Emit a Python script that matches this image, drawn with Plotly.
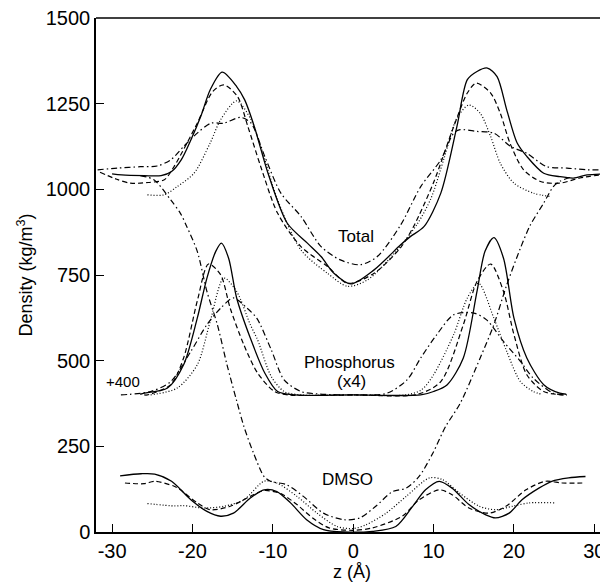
import plotly.graph_objects as go

# ---------------- data ----------------
# Total density
total_solid_z = [-30, -28.8, -26, -23.9, -22.6, -21.4, -20.2, -18.9, -17.8, -16.3, -14.5, -13.5, -12.3, -10.6, -8.2,
                 -5.7, -4.0, -2.4, -0.3, 2.6, 5.9, 7.1, 8.8, 10.9, 12.9, 14.2, 15.4, 16.7, 17.9, 19.1, 20.4, 21.6,
                 23.7, 25.7, 27.4, 29.1, 31.5]
total_solid_v = [1045, 1042, 1040, 1040, 1052, 1086, 1144, 1217, 1290, 1342, 1300, 1261, 1183, 1047, 901,
                 843, 804, 755, 724, 765, 838, 862, 891, 989, 1183, 1320, 1344, 1354, 1329, 1232, 1135, 1096,
                 1047, 1037, 1033, 1042, 1045]

total_dash_z = [-31.5, -29.5, -27.7, -25.5, -23.5, -22.3, -19.4, -17.5, -16.1, -14.4, -13.1, -11.5, -9.4, -6.5,
                -3.2, -0.7, 2.6, 5.9, 7.5, 10, 12.5, 14.2, 15.3, 17.1, 18.3, 19.5, 21.2, 23.3, 25.7, 28.2, 30.7]
total_dash_v = [1050, 1030, 1018, 1020, 1028, 1066, 1193, 1285, 1305, 1271, 1183, 1066, 930, 833,
                775, 726, 755, 830, 891, 1020, 1183, 1281, 1310, 1281, 1222, 1135, 1057, 1023, 1018, 1033, 1042]

total_dot_z = [-25.6, -23.5, -21.9, -19.8, -17.8, -16.5, -14.5, -12.7, -11.5, -9.4, -6.5, -3.2, -0.7, 1.8, 5,
               8, 9.7, 11.3, 12.9, 14.4, 15.8, 17.1, 18.3, 20, 22.4, 24.5]
total_dot_v = [984, 984, 1008, 1047, 1135, 1203, 1258, 1203, 1125, 969, 823, 755, 717, 736, 810,
               900, 975, 1090, 1208, 1246, 1222, 1154, 1076, 1018, 989, 979]

total_dashdot_z = [-31.8, -29.3, -26.5, -24.4, -22.7, -21.1, -19.4, -17.7, -16.1, -14.0, -12.7, -11.0, -9.0, -6.5,
                   -4.0, -1.6, 0.9, 3.0, 5.9, 8.4, 10.9, 12.5, 13.3, 15.4, 17.5, 19.6, 21.6, 24.1, 26.6, 29.1, 31.5]
total_dashdot_v = [1057, 1062, 1066, 1068, 1086, 1125, 1164, 1193, 1193, 1210, 1193, 1096, 989, 921,
                   833, 794, 780, 804, 896, 1008, 1086, 1164, 1174, 1169, 1164, 1125, 1105, 1066, 1062, 1057, 1057]

# Phosphorus density (x4, shifted +400 as plotted)
phos_solid_z = [-26.5, -26, -23.1, -21.1, -19.4, -18.2, -17.1, -16.4, -15.5, -14.5, -12.8, -11.0, -9.4, -7.2, 0,
                8.4, 10, 11.7, 13.7, 15.4, 16.4, 17.5, 18.7, 20.0, 21.6, 23.7, 25.7, 26.5]
phos_solid_v = [402, 405, 420, 488, 624, 741, 819, 843, 799, 683, 566, 464, 410, 400, 400,
                400, 410, 430, 508, 702, 819, 859, 799, 624, 508, 430, 405, 402]

phos_dash_z = [-26, -25.6, -22.7, -21.1, -19.4, -18.0, -16.5, -15.3, -13.6, -11.9, -9.8, -8, 0, 8, 10.9, 13.7,
               15.4, 17.1, 18.7, 20.0, 21.6, 23.7, 26.2]
phos_dash_v = [400, 400, 430, 508, 674, 782, 751, 653, 546, 464, 410, 400, 400, 402, 439, 605,
               731, 782, 702, 576, 459, 410, 400]

phos_dot_z = [-25.2, -21.9, -19.4, -17.8, -16.1, -14.5, -12.8, -11.9, -10.2, -8.6, -6.5, 0, 6.5, 8.5, 10.0, 12.5,
              14.2, 15.6, 17.5, 19.1, 20.8, 22.4, 23.5]
phos_dot_v = [400, 420, 488, 614, 741, 702, 605, 561, 454, 410, 400, 400, 400, 415, 459, 576,
              683, 726, 624, 527, 439, 410, 402]

phos_dashdot_z = [-28.9, -25.2, -22.7, -20.2, -18.2, -16.5, -14.9, -13.2, -12.0, -10.2, -8.6, -6.5, -4.4, 0, 4.2,
                  6.7, 8.4, 10.4, 12.5, 15.0, 16.6, 18.7, 20.8, 22.4, 24.9, 26.6]
phos_dashdot_v = [400, 410, 439, 527, 605, 653, 683, 653, 624, 532, 444, 410, 403, 400, 405,
                  444, 508, 576, 634, 639, 619, 556, 498, 449, 405, 400]

# DMSO density
dmso_solid_z = [-29, -26.4, -24.7, -22.6, -20.2, -18.2, -16.5, -14.9, -12.8, -11.1, -9.5, -7.8, -5.8, -3.7, -1.2,
                2.4, 5.3, 7.4, 9.0, 10.7, 12.3, 14.4, 16.5, 17.7, 19.4, 21.0, 23.1, 24.7, 26.8, 28.9]
dmso_solid_v = [164, 170, 169, 148, 94, 60, 46, 55, 99, 123, 118, 85, 36, 7, 0,
                2, 16, 75, 123, 148, 128, 80, 50, 41, 55, 94, 128, 148, 158, 162]

dmso_dash_z = [-28.4, -26, -24.7, -22.2, -21.5, -19.4, -17.8, -15.3, -12.8, -11.1, -9, -7, -5, -3, 0, 2.4, 6.1,
               8.2, 10.7, 12.3, 14.4, 16.9, 19.0, 21.5, 23.9, 26.0, 28.5]
dmso_dash_v = [143, 141, 148, 133, 123, 85, 65, 75, 104, 121, 112, 80, 40, 12, 5, 12, 46,
               94, 123, 109, 70, 55, 75, 123, 148, 143, 143]

dmso_dot_z = [-25.6, -22.2, -21.1, -18.6, -16.1, -13.6, -11.1, -9.5, -7.0, -4.5, -2.0, 0, 1.6, 4.1, 6.6, 9.5,
              11.1, 13.2, 15.7, 17.7, 19.8, 21.9, 25.2]
dmso_dot_v = [83, 76, 77, 70, 75, 94, 148, 143, 104, 55, 16, 10, 21, 55, 104, 158,
              153, 114, 75, 65, 75, 85, 85]

dmso_dashdot_z = [-26.5, -24.8, -22.7, -21.5, -20.7, -19.4, -18.2, -16.9, -15.7, -14.5, -13.6, -12.4, -11.1, -10.3,
                  -8.3, -6.2, -3.7, -1.2, 0.8, 2.8, 4.9, 6.6, 8.2, 9.9, 11.5, 13.3, 15.8, 17.5, 19.1, 20.8, 22.0,
                  23.7, 24.9, 25.7, 27.0]
dmso_dashdot_v = [1040, 1028, 969, 930, 891, 819, 702, 605, 488, 383, 308, 230, 162, 148,
                  138, 104, 55, 36, 41, 75, 118, 128, 162, 230, 308, 375, 508, 605, 721, 828, 894,
                  960, 1008, 1023, 1035]

x_ticks = [-30, -20, -10, 0, 10, 20, 30]
x_tick_labels = ["-30", "-20", "-10", "0", "10", "20", "30"]
y_ticks = [0, 250, 500, 750, 1000, 1250, 1500]
y_tick_labels = ["0", "250", "500", "750", "1000", "1250", "1500"]

# ---------------- figure ----------------
STYLES = {
    "solid": dict(dash="solid", width=1.3),
    "dash": dict(dash="5px,3px", width=1.2),
    "dot": dict(dash="1px,2px", width=1.2),
    "dashdot": dict(dash="6px,3px,1.5px,3px", width=1.2),
}

series = [
    (total_solid_z, total_solid_v, "solid"), (total_dash_z, total_dash_v, "dash"),
    (total_dot_z, total_dot_v, "dot"), (total_dashdot_z, total_dashdot_v, "dashdot"),
    (phos_solid_z, phos_solid_v, "solid"), (phos_dash_z, phos_dash_v, "dash"),
    (phos_dot_z, phos_dot_v, "dot"), (phos_dashdot_z, phos_dashdot_v, "dashdot"),
    (dmso_solid_z, dmso_solid_v, "solid"), (dmso_dash_z, dmso_dash_v, "dash"),
    (dmso_dot_z, dmso_dot_v, "dot"), (dmso_dashdot_z, dmso_dashdot_v, "dashdot"),
]

fig = go.Figure()
for zs, vs, st in series:
    fig.add_trace(go.Scatter(x=zs, y=vs, mode="lines", line_shape="spline",
                             line=dict(color="black", smoothing=0.8, **STYLES[st]),
                             showlegend=False, hoverinfo="skip", cliponaxis=True))

FONT = "Liberation Sans, Arial, Helvetica, sans-serif"
labels = [
    (0.3, 861, "Total", 17),
    (-0.4, 496, "Phosphorus", 17),
    (-0.2, 439, "(x4)", 17),
    (-0.7, 153, "DMSO", 17),
    (-28.7, 439, "+400", 15),
]
for x, y, t, s in labels:
    fig.add_annotation(x=x, y=y, text=t, showarrow=False,
                       font=dict(family=FONT, size=s, color="black"))

# top frame line
fig.add_shape(type="line", xref="paper", yref="paper", x0=0, x1=1, y0=1, y1=1,
              line=dict(color="black", width=1.5), layer="above")

# page body has an 8px margin: figure is 600x577 so that it fills the 608x585 window
fig.update_layout(
    width=600, height=577,
    margin=dict(l=88, r=0, t=10, b=53, autoexpand=False),
    plot_bgcolor="white", paper_bgcolor="white",
    font=dict(family=FONT, color="black"),
)
fig.update_xaxes(range=[-32, 31.7], tickvals=x_ticks, ticktext=x_tick_labels,
                 ticks="inside", ticklen=8, tickwidth=1.2, tickcolor="black",
                 showline=True, linecolor="black", linewidth=1.5,
                 showgrid=False, zeroline=False, tickfont=dict(size=20), automargin=False,
                 ticklabeloverflow="allow",
                 title=dict(text="z (Å)", font=dict(size=18), standoff=4))
fig.update_yaxes(range=[0, 1500], tickvals=y_ticks, ticktext=y_tick_labels,
                 ticks="inside", ticklen=8, tickwidth=1.2, tickcolor="black",
                 showline=True, linecolor="black", linewidth=1.5,
                 showgrid=False, zeroline=False, tickfont=dict(size=20), automargin=False,
                 ticklabeloverflow="allow",
                 title=dict(text="Density (kg/m<sup>3</sup>)", font=dict(size=18), standoff=8))

fig.write_html("out.html")
